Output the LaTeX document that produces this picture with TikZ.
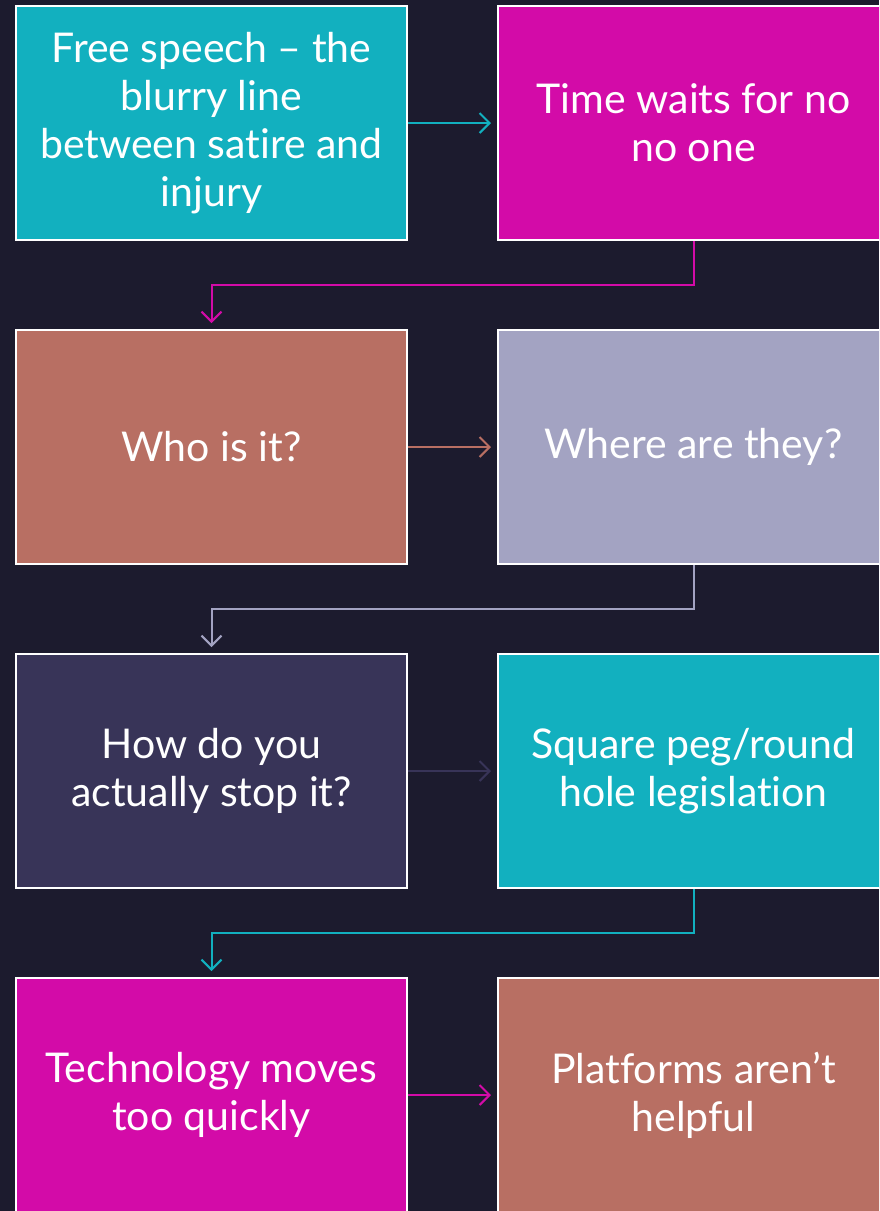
\documentclass[tikz,border=0pt]{standalone}
\usepackage{fontspec}
\setmainfont{Lato}[Ligatures={NoCommon,NoDiscretionary,NoRare}]
\usetikzlibrary{arrows.meta}
\definecolor{bg}{HTML}{1C1B2E}
\definecolor{cteal}{HTML}{12B0BF}
\definecolor{cmag}{HTML}{D30BA8}
\definecolor{cbrown}{HTML}{B86F63}
\definecolor{clav}{HTML}{A3A3C2}
\definecolor{cpurp}{HTML}{383458}
\begin{document}
\begin{tikzpicture}[x=1pt,y=-1pt,
  box/.style={draw=white,line width=2pt,minimum width=391pt,minimum height=234pt,
    align=center,text=white,inner sep=0pt,
    font=\fontsize{41}{48}\selectfont},
  conn/.style={line width=2pt,-{Straight Barb[length=10pt,width=20pt,line width=2pt]}},
  ]
\useasboundingbox (0,0) rectangle (879,1211);
\clip (0,0) rectangle (879,1211);
\fill[bg] (0,0) rectangle (879,1211);
\node[box,fill=cteal] (b1) at (211.5,123) {Free speech -- the\\blurry line\\between satire and\\injury};
\node[box,fill=cmag] (b2) at (693.5,123) {Time waits for no\\no one};
\node[box,fill=cbrown] (b3) at (211.5,447) {Who is it?};
\node[box,fill=clav] (b4) at (693.5,447) {Where are they?};
\node[box,fill=cpurp] (b5) at (211.5,771) {How do you\\actually stop it?};
\node[box,fill=cteal] (b6) at (693.5,771) {Square peg/round\\hole legislation};
\node[box,fill=cmag] (b7) at (211.5,1095) {Technology moves\\too quickly};
\node[box,fill=cbrown] (b8) at (693.5,1095) {Platforms aren’t\\helpful};
\draw[conn,cteal,shorten >=6pt] (b1.east) -- (b2.west);
\draw[conn,cbrown,shorten >=6pt] (b3.east) -- (b4.west);
\draw[conn,cpurp,shorten >=6pt] (b5.east) -- (b6.west);
\draw[conn,cmag,shorten >=6pt] (b7.east) -- (b8.west);
\draw[conn,cmag,shorten >=6pt] (b2.south) -- ++(0,44) -| (b3.north);
\draw[conn,clav,shorten >=6pt] (b4.south) -- ++(0,44) -| (b5.north);
\draw[conn,cteal,shorten >=6pt] (b6.south) -- ++(0,44) -| (b7.north);
\end{tikzpicture}
\end{document}
